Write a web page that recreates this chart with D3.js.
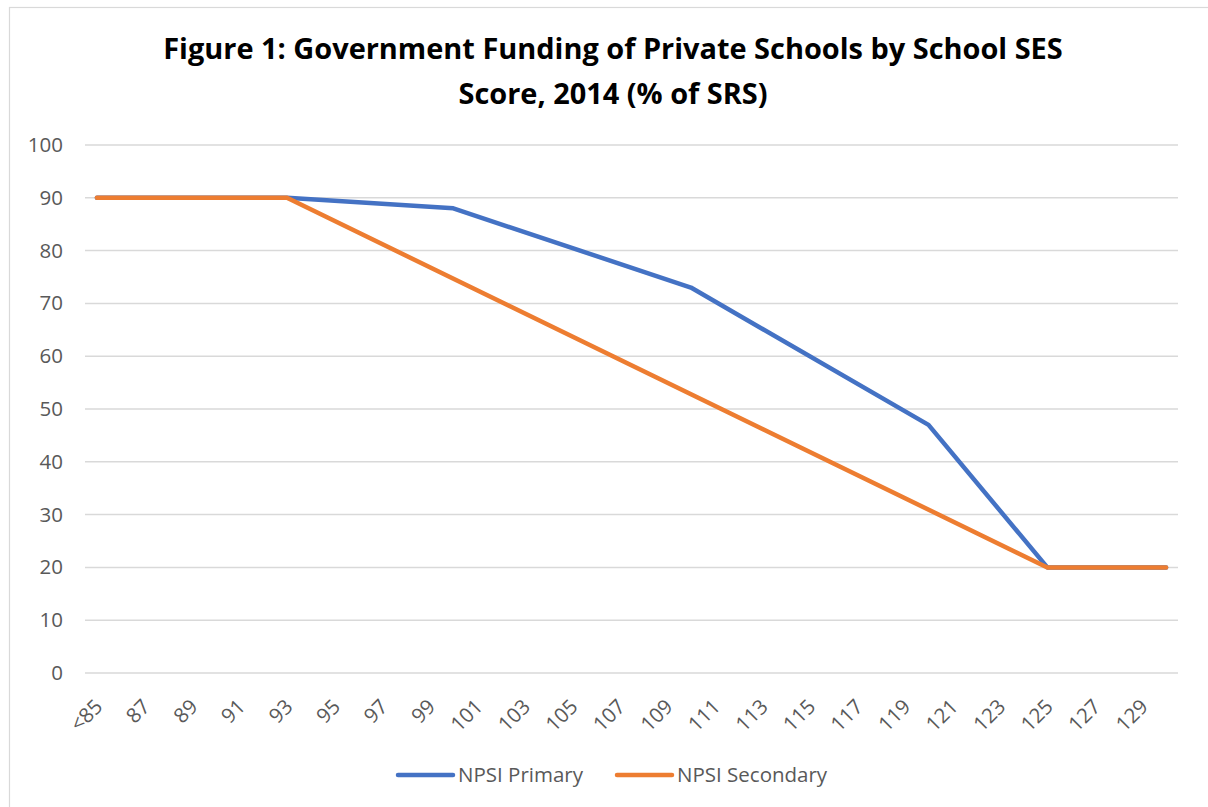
<!DOCTYPE html>
<html>
<head>
<meta charset="utf-8">
<script src="https://cdn.jsdelivr.net/npm/d3@7"></script>
<style>
  body { margin: 0; background: #fff; }
  svg { display: block; }
</style>
</head>
<body>
<div id="chart"></div>
<script>
const categories = ['<85', '86', '87', '88', '89', '90', '91', '92', '93', '94', '95', '96', '97', '98', '99',
    '100', '101', '102', '103', '104', '105', '106', '107', '108', '109', '110', '111', '112', '113', '114',
    '115', '116', '117', '118', '119', '120', '121', '122', '123', '124', '125', '126', '127', '128', '129', '130'];
const tickLabels = ['<85', '87', '89', '91', '93', '95', '97', '99', '101', '103', '105', '107', '109', '111',
    '113', '115', '117', '119', '121', '123', '125', '127', '129'];
const yTicks = [0, 10, 20, 30, 40, 50, 60, 70, 80, 90, 100];

// series at the corners of each line
const primaryCats = ['<85', '93', '100', '110', '120', '125', '130'];
const primaryValues = [90, 90, 88, 73, 47, 20, 20];
const secondaryCats = ['<85', '93', '125', '130'];
const secondaryValues = [90, 90, 20, 20];

const seriesNames = ['NPSI Primary', 'NPSI Secondary'];
const seriesColors = ['#4472C4', '#ED7D31'];

const width = 1208;
const height = 807;
const margin = {top: 145, right: 30, bottom: 134, left: 85};
const font = "'Open Sans', 'Liberation Sans', sans-serif";

const svg = d3.select('#chart').append('svg')
    .attr('width', width)
    .attr('height', height);

// chart frame
svg.append('rect')
    .attr('x', 9.5)
    .attr('y', 7.5)
    .attr('width', width + 20)
    .attr('height', height + 20)
    .attr('fill', '#fff')
    .attr('stroke', '#d9d9d9')
    .attr('stroke-width', 1.2);

const x = d3.scaleBand()
    .domain(categories)
    .range([margin.left, width - margin.right]);

const y = d3.scaleLinear()
    .domain([0, 100])
    .range([height - margin.bottom, margin.top]);

const xc = c => x(c) + x.bandwidth() / 2;

// gridlines
svg.append('g')
    .selectAll('line')
    .data(yTicks)
    .join('line')
        .attr('x1', margin.left)
        .attr('x2', width - margin.right)
        .attr('y1', d => y(d))
        .attr('y2', d => y(d))
        .attr('stroke', '#d9d9d9')
        .attr('stroke-width', 1.5);

// y axis labels
const yAxis = svg.append('g')
    .attr('transform', `translate(${margin.left - 22}, 0)`)
    .call(d3.axisLeft(y).tickValues(yTicks).tickSize(0).tickPadding(0));
yAxis.select('.domain').remove();
yAxis.selectAll('text')
    .attr('font-family', font)
    .attr('font-size', 20.5)
    .attr('fill', '#595959');

// x axis labels
const xAxis = svg.append('g')
    .attr('transform', `translate(0, ${height - margin.bottom})`)
    .call(d3.axisBottom(x).tickValues(tickLabels).tickSize(0).tickPadding(0));
xAxis.select('.domain').remove();
xAxis.selectAll('text')
    .attr('font-family', font)
    .attr('font-size', 20.5)
    .attr('fill', '#595959')
    .attr('text-anchor', 'end')
    .attr('dy', null)
    .attr('y', 0)
    .attr('transform', 'translate(7, 35) rotate(-45)');

const line = d3.line()
    .x(d => xc(d[0]))
    .y(d => y(d[1]));

const series = [
    d3.zip(primaryCats, primaryValues),
    d3.zip(secondaryCats, secondaryValues)
];

svg.append('g')
    .selectAll('path')
    .data(series)
    .join('path')
        .attr('d', line)
        .attr('fill', 'none')
        .attr('stroke', (d, i) => seriesColors[i])
        .attr('stroke-width', 4.5)
        .attr('stroke-linejoin', 'round')
        .attr('stroke-linecap', 'round');

// title
const titleLines = ['Figure 1: Government Funding of Private Schools by School SES', 'Score, 2014 (% of SRS)'];
const title = svg.append('g');
title.selectAll('text')
    .data(titleLines)
    .join('text')
        .attr('x', 613)
        .attr('y', (d, i) => 59 + i * 45)
        .attr('text-anchor', 'middle')
        .attr('font-family', font)
        .attr('font-weight', 'bold')
        .attr('font-size', 29)
        .attr('fill', '#000')
        .text(d => d);
// fit first line to the width in the picture
const firstLen = title.select('text').node().getComputedTextLength();
title.selectAll('text').attr('font-size', 29 * 900 / firstLen);

// legend
const legendX = [398, 617];
const legend = svg.append('g')
    .selectAll('g')
    .data(seriesNames)
    .join('g')
        .attr('transform', (d, i) => `translate(${legendX[i]}, 775)`);

legend.append('line')
    .attr('x1', 0)
    .attr('x2', 55)
    .attr('stroke', (d, i) => seriesColors[i])
    .attr('stroke-width', 4.5)
    .attr('stroke-linecap', 'round');

legend.append('text')
    .attr('x', 60)
    .attr('dy', '0.35em')
    .attr('font-family', font)
    .attr('font-size', 20.5)
    .attr('fill', '#595959')
    .text(d => d);
</script>
</body>
</html>
